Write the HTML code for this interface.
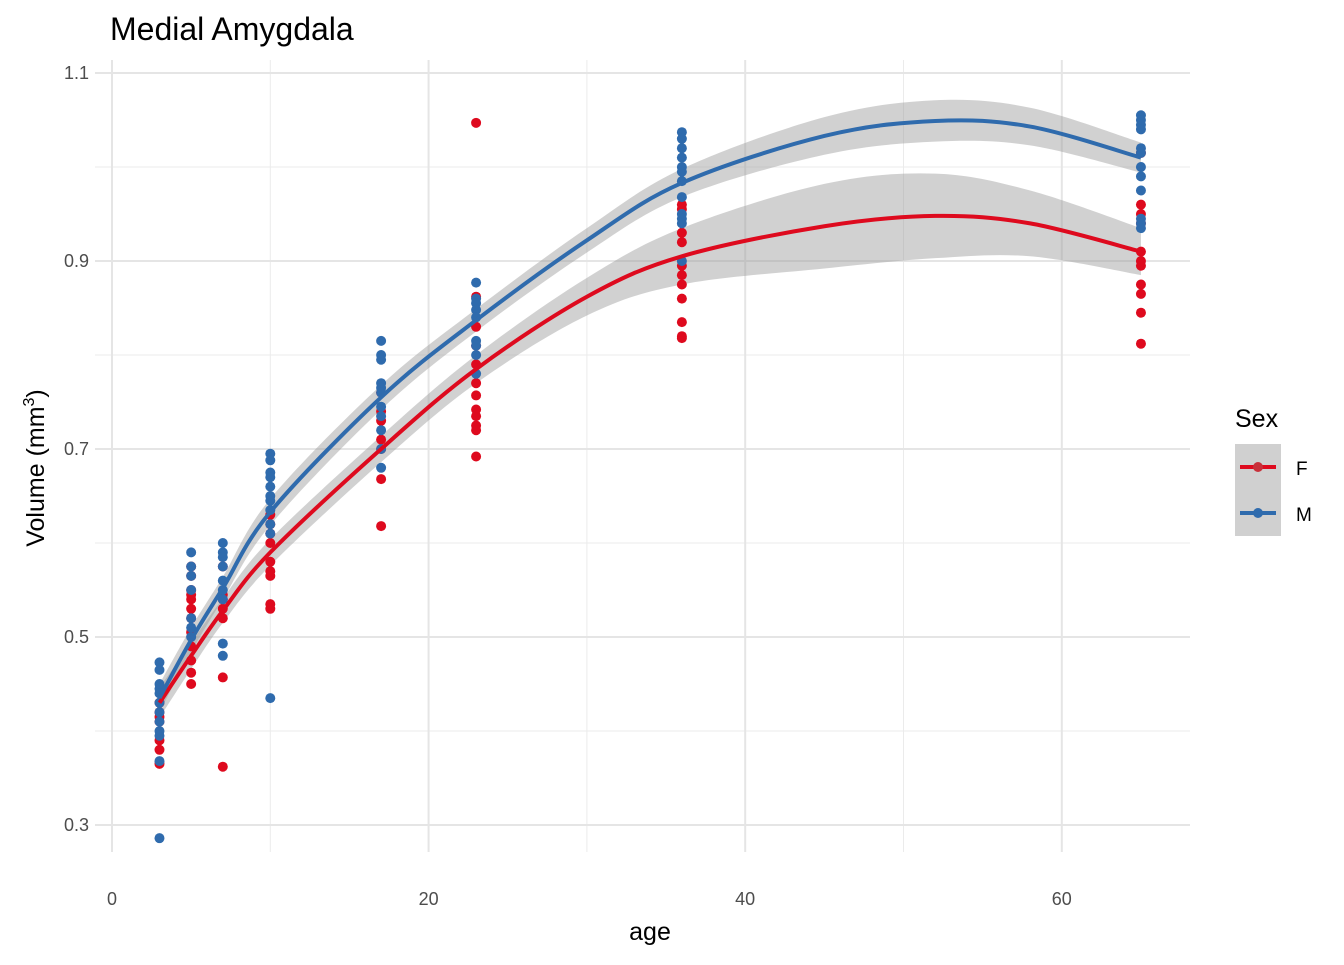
<!DOCTYPE html>
<html><head><meta charset="utf-8"><style>
body{margin:0;background:#fff;font-family:"Liberation Sans",sans-serif}
svg text{font-family:"Liberation Sans",sans-serif}
</style></head><body>
<svg id="chart" width="1344" height="960">
<text x="110" y="40" font-size="32" fill="#000">Medial Amygdala</text>
<g id="grid"></g><g id="ribbons"></g><g id="points"></g><g id="lines"></g><g id="ticks"></g>
<text x="650" y="940" font-size="25" text-anchor="middle">age</text>
<text transform="translate(44,468) rotate(-90)" font-size="25" text-anchor="middle">Volume (mm<tspan font-size="16" dy="-10">3</tspan><tspan dy="10">)</tspan></text>
<g>
<text x="1235" y="427" font-size="25">Sex</text>
<rect x="1235" y="444" width="46" height="92" fill="#d0d0d0"/>
<g><line x1="1240" x2="1276" y1="467" y2="467" stroke="#de0a1e" stroke-width="4"/><circle cx="1258" cy="467" r="5" fill="#c8303a"/><text x="1296" y="475" font-size="19">F</text></g>
<g><line x1="1240" x2="1276" y1="513" y2="513" stroke="#2f6bad" stroke-width="4"/><circle cx="1258" cy="513" r="5" fill="#2f6bad"/><text x="1296" y="521" font-size="19">M</text></g>
</g>
</svg>
<script>
const ages=[3,5,7,10,17,23,36,65];
const mPts=[[0.473,0.465,0.45,0.445,0.44,0.43,0.42,0.41,0.40,0.395,0.368,0.286],
[0.59,0.575,0.565,0.55,0.52,0.51,0.50],
[0.60,0.59,0.585,0.575,0.56,0.55,0.54,0.493,0.48],
[0.695,0.688,0.675,0.67,0.66,0.65,0.645,0.635,0.62,0.61,0.435],
[0.815,0.80,0.795,0.77,0.765,0.76,0.745,0.735,0.72,0.70,0.68],
[0.877,0.86,0.855,0.848,0.84,0.815,0.81,0.80,0.78],
[1.037,1.03,1.02,1.01,1.00,0.995,0.985,0.968,0.95,0.945,0.94,0.90],
[1.055,1.05,1.045,1.04,1.02,1.015,1.00,0.99,0.975,0.945,0.94,0.935]];
const fPts=[[0.43,0.42,0.415,0.41,0.39,0.38,0.365],
[0.575,0.565,0.55,0.545,0.54,0.53,0.52,0.505,0.49,0.475,0.462,0.45],
[0.575,0.545,0.54,0.53,0.52,0.457,0.362],
[0.63,0.62,0.61,0.60,0.58,0.57,0.565,0.535,0.53],
[0.76,0.74,0.73,0.71,0.70,0.668,0.618],
[1.047,0.862,0.83,0.81,0.79,0.77,0.757,0.742,0.735,0.725,0.72,0.692],
[0.96,0.955,0.93,0.92,0.895,0.885,0.875,0.86,0.835,0.82,0.818],
[1.015,0.96,0.95,0.94,0.91,0.90,0.895,0.875,0.865,0.845,0.812]];
const fitAges=[3,5,7,10,17,23,30,36,45,52,58,65];
const mFit=[0.435,0.497,0.552,0.633,0.755,0.837,0.922,0.983,1.033,1.049,1.043,1.01];
const mSe=[0.015,0.013,0.012,0.014,0.013,0.012,0.013,0.015,0.02,0.022,0.02,0.016];
const fFit=[0.43,0.48,0.528,0.59,0.70,0.785,0.862,0.905,0.937,0.948,0.94,0.91];
const fSe=[0.016,0.014,0.013,0.014,0.014,0.015,0.02,0.03,0.045,0.045,0.035,0.025];
const xTicks=[0,20,40,60],xMinor=[10,30,50];
const yTicks=[0.3,0.5,0.7,0.9,1.1],yMinor=[0.4,0.6,0.8,1.0];
const X=v=>112+v*15.83, Y=v=>825-(v-0.3)*940;
const NS='http://www.w3.org/2000/svg';
function mk(t,a,p){const e=document.createElementNS(NS,t);for(const k in a)e.setAttribute(k,a[k]);p.appendChild(e);return e;}
const G=document.getElementById('grid'),T=document.getElementById('ticks');
xMinor.forEach(v=>{const l=mk('line',{x1:X(v),x2:X(v),y1:60,y2:852,stroke:'#ebebeb','stroke-width':1},G);});
yMinor.forEach(v=>{const l=mk('line',{x1:95,x2:1190,y1:Y(v),y2:Y(v),stroke:'#ebebeb','stroke-width':1},G);});
xTicks.forEach(v=>{const l=mk('line',{x1:X(v),x2:X(v),y1:60,y2:852,stroke:'#e5e5e5','stroke-width':2},G);
const t=mk('text',{x:X(v),y:905,'font-size':18,fill:'#4d4d4d','text-anchor':'middle'},T);t.textContent=v;});
yTicks.forEach(v=>{const l=mk('line',{x1:95,x2:1190,y1:Y(v),y2:Y(v),stroke:'#e5e5e5','stroke-width':2},G);
const t=mk('text',{x:89,y:Y(v)+6,'font-size':18,fill:'#4d4d4d','text-anchor':'end'},T);t.textContent=v;});
function smooth(pts){let d='M'+pts[0][0]+','+pts[0][1];for(let i=0;i<pts.length-1;i++){const p0=pts[Math.max(0,i-1)],p1=pts[i],p2=pts[i+1],p3=pts[Math.min(pts.length-1,i+2)];
d+=' C'+(p1[0]+(p2[0]-p0[0])/6)+','+(p1[1]+(p2[1]-p0[1])/6)+' '+(p2[0]-(p3[0]-p1[0])/6)+','+(p2[1]-(p3[1]-p1[1])/6)+' '+p2[0]+','+p2[1];}return d;}
const R=document.getElementById('ribbons'),L=document.getElementById('lines'),P=document.getElementById('points');
function series(fit,se,pts,col,name){
const up=fitAges.map((a,i)=>[X(a),Y(fit[i]+se[i])]);const lo=fitAges.map((a,i)=>[X(a),Y(fit[i]-se[i])]).reverse();
const r=mk('path',{d:smooth(up)+' L'+smooth(lo).slice(1)+' Z',fill:'#999','fill-opacity':0.45},R);
pts.forEach((arr,i)=>arr.forEach(v=>{const c=mk('circle',{cx:X(ages[i]),cy:Y(v),r:5,fill:col},P);}));
const l=mk('path',{d:smooth(fitAges.map((a,i)=>[X(a),Y(fit[i])])),fill:'none',stroke:col,'stroke-width':4},L);}
series(fFit,fSe,fPts,'#de0a1e','f');
series(mFit,mSe,mPts,'#2f6bad','m');
</script>
</body></html>
